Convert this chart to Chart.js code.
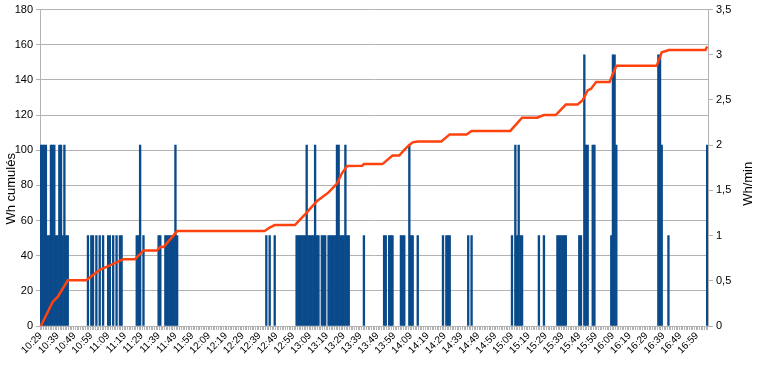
<!DOCTYPE html>
<html>
<head>
<meta charset="utf-8">
<script src="https://cdn.jsdelivr.net/npm/chart.js@4.4.1/dist/chart.umd.min.js"></script>
<style>
  html, body { margin: 0; padding: 0; background: #fff; }
  #wrap { width: 763px; height: 369px; position: relative; }
</style>
</head>
<body>
<div id="wrap"><canvas id="c"></canvas></div>
<script>
// ---- categories (one per minute) ----
const firstTime = '10:29';
const lastTime = '17:05';

// ---- bars: Wh/min (right axis), only the non-zero minutes ----
const barTimes = [
  '10:29','10:30','10:31','10:32','10:33','10:34','10:35','10:36','10:37','10:38','10:39','10:40','10:41','10:42','10:43','10:44','10:45',
  '10:57','10:59','11:00','11:02','11:04','11:06','11:09','11:10','11:12','11:14','11:16','11:17',
  '11:26','11:27','11:28','11:30',
  '11:39','11:40','11:43','11:44','11:45','11:46','11:47','11:48','11:49','11:50',
  '12:43','12:45','12:48',
  '13:01','13:02','13:03','13:04','13:05','13:06','13:07','13:08','13:09','13:10','13:11','13:12','13:13','13:14',
  '13:16','13:17','13:18','13:20','13:21','13:22','13:23','13:24','13:25','13:26','13:27','13:28','13:29','13:30','13:31','13:32',
  '13:41',
  '13:53','13:54','13:56','13:57','13:58','14:03','14:04','14:05','14:08','14:09','14:10','14:13',
  '14:28','14:30','14:31','14:32','14:43','14:45',
  '15:09','15:11','15:12','15:13','15:14','15:15','15:25','15:28',
  '15:36','15:37','15:38','15:39','15:40','15:41',
  '15:49','15:50','15:52','15:53','15:54','15:57','15:58',
  '16:08','16:09','16:10','16:11',
  '16:36','16:37','16:38','16:42','17:05'
];
const barValues = [
  2,2,2,2,1,1,2,2,2,1,1,2,2,1,2,1,1,
  1,1,1,1,1,1,1,1,1,1,1,1,
  1,1,2,1,
  1,1,1,1,1,1,1,1,2,1,
  1,1,1,
  1,1,1,1,1,1,2,1,1,1,1,2,1,1,
  1,1,1,1,1,1,1,1,2,2,1,1,1,2,1,1,
  1,
  1,1,1,1,1,1,1,1,2,1,1,1,
  1,1,1,1,1,1,
  1,2,1,2,1,1,1,1,
  1,1,1,1,1,1,
  1,1,3,2,2,2,2,
  1,3,3,2,
  3,3,2,1,2
];

// ---- line: Wh cumulés (left axis), read at its corners ----
const lineTimes = [
  '10:29','10:36','10:39','10:45','10:56','11:04','11:10','11:18','11:25','11:30',
  '11:38','11:40','11:42','11:50','12:42','12:45','12:48','13:00','13:07','13:13',
  '13:20','13:25','13:28','13:31','13:40','13:41','13:52','13:58','14:02','14:05',
  '14:08','14:10','14:13','14:27','14:32','14:42','14:45','15:08','15:12','15:15',
  '15:24','15:28','15:35','15:41','15:48','15:51','15:54','15:56','15:59','16:07',
  '16:11','16:35','16:38','16:41','16:42','17:04','17:05'
];
const lineValues = [
  0, 13.7, 16.5, 26, 26, 32, 34.5, 38, 38, 43,
  43, 45, 45, 54, 54, 56, 57.4, 57.4, 64.5, 71,
  76, 81, 87, 91, 91.2, 92.1, 92.1, 97, 97, 100.2,
  103, 104.5, 105, 105, 109, 109, 111, 111, 115.3, 118.5,
  118.5, 120, 120, 126, 126, 128.4, 134, 135, 138.8, 138.8,
  148, 148, 155.7, 156.6, 157, 157, 159
];

// ---- axis ticks / titles ----
const leftTicks = [0, 20, 40, 60, 80, 100, 120, 140, 160, 180];
const rightTicks = [0, 0.5, 1, 1.5, 2, 2.5, 3, 3.5];
const leftTitle = 'Wh cumulés';
const rightTitle = 'Wh/min';

function toMin(t) { const p = t.split(':'); return (+p[0]) * 60 + (+p[1]); }
function toLabel(m) { const h = Math.floor(m / 60), mm = m % 60; return h + ':' + (mm < 10 ? '0' : '') + mm; }
const categories = [];
for (let m = toMin(firstTime); m <= toMin(lastTime); m++) categories.push(toLabel(m));

const barData = barTimes.map((t, i) => ({ x: t, y: barValues[i] }));
const lineData = lineTimes.map((t, i) => ({ x: t, y: lineValues[i] }));

const FONT = '"Liberation Sans", Arial, sans-serif';
const GRID = '#b3b3b3';

const titlesPlugin = {
  id: 'axisTitles',
  afterDraw(chart) {
    const ctx = chart.ctx, a = chart.chartArea;
    const cy = (a.top + a.bottom) / 2;
    ctx.save();
    ctx.font = '13px ' + FONT;
    ctx.fillStyle = '#000';
    ctx.textAlign = 'center';
    ctx.textBaseline = 'middle';
    ctx.save();
    ctx.translate(a.left - 29, cy + 21);
    ctx.rotate(-Math.PI / 2);
    ctx.fillText(leftTitle, 0, 0);
    ctx.restore();
    ctx.save();
    ctx.translate(a.right + 40, cy + 16);
    ctx.rotate(-Math.PI / 2);
    ctx.fillText(rightTitle, 0, 0);
    ctx.restore();
    ctx.restore();
  }
};

new Chart(document.getElementById('c'), {
  type: 'bar',
  data: {
    labels: categories,
    datasets: [
      {
        type: 'line',
        label: leftTitle,
        data: lineData,
        yAxisID: 'y',
        borderColor: '#ff420e',
        backgroundColor: '#ff420e',
        borderWidth: 2.5,
        pointRadius: 0,
        tension: 0,
        order: 0
      },
      {
        type: 'bar',
        label: rightTitle,
        data: barData,
        yAxisID: 'y1',
        backgroundColor: '#0a4a8a',
        barPercentage: 1,
        categoryPercentage: 1,
        order: 1
      }
    ]
  },
  options: {
    responsive: true,
    maintainAspectRatio: false,
    animation: false,
    layout: { padding: { top: 7, left: 0, right: 0, bottom: 0 } },
    plugins: { legend: { display: false }, tooltip: { enabled: false } },
    scales: {
      x: {
        type: 'category',
        grid: { drawOnChartArea: false, tickLength: 4, color: GRID },
        border: { color: GRID },
        ticks: {
          autoSkip: false,
          minRotation: 45,
          maxRotation: 45,
          padding: 0,
          color: '#000',
          font: { family: FONT, size: 10 },
          callback: function (v, i) { return i % 10 === 0 ? this.getLabelForValue(v) : ''; }
        },
        afterFit(s) { s.height = 43; }
      },
      y: {
        position: 'left',
        min: leftTicks[0],
        max: leftTicks[leftTicks.length - 1],
        afterBuildTicks(s) { s.ticks = leftTicks.map(v => ({ value: v })); },
        grid: { color: GRID, tickLength: 4 },
        border: { color: GRID },
        ticks: { color: '#000', padding: 3, font: { family: FONT, size: 11 } },
        afterFit(s) { s.width = 40; }
      },
      y1: {
        position: 'right',
        min: rightTicks[0],
        max: rightTicks[rightTicks.length - 1],
        afterBuildTicks(s) { s.ticks = rightTicks.map(v => ({ value: v })); },
        grid: { drawOnChartArea: false, color: GRID, tickLength: 5 },
        border: { color: GRID },
        ticks: {
          color: '#000', padding: 3, font: { family: FONT, size: 11 },
          callback: v => String(v).replace('.', ',')
        },
        afterFit(s) { s.width = 55; }
      }
    }
  },
  plugins: [titlesPlugin]
});
</script>
</body>
</html>
